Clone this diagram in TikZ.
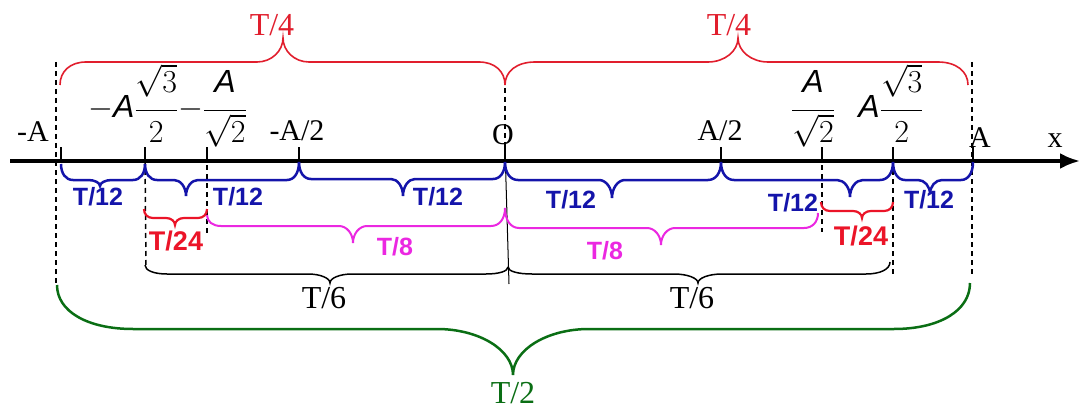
\documentclass[tikz,border=0pt]{standalone}
\usepackage{fix-cm}
\usepackage{amsmath}
\usepackage{fontspec}
\setmainfont{Liberation Serif}
\setsansfont{Liberation Sans}
\usetikzlibrary{arrows.meta}
\definecolor{cblu}{RGB}{20,20,170}
\definecolor{cred}{RGB}{225,30,45}
\definecolor{cred2}{RGB}{235,20,40}
\definecolor{cmag}{RGB}{235,40,225}
\definecolor{cgrn}{RGB}{10,110,20}
% brace: [style]{x1}{y1}{x2}{y2}{xtip}{ybar}{ytip}{r}
\newcommand\brc[9][]{\draw[#1] (#2,#3) .. controls (#2,{#3+0.6*(#7-#3)}) and ({#2+0.4*#9},#7) .. ({#2+#9},#7) -- ({#6-#9},#7) .. controls ({#6-0.45*#9},#7) and (#6,{#7+0.45*(#8-#7)}) .. (#6,#8) .. controls (#6,{#7+0.45*(#8-#7)}) and ({#6+0.45*#9},#7) .. ({#6+#9},#7) -- ({#4-#9},#7) .. controls ({#4-0.4*#9},#7) and (#4,{#5+0.6*(#7-#5)}) .. (#4,#5);}
\newcommand\Ai{\text{\sffamily\itshape A}}
\newcommand\ff[2]{\dfrac{\raisebox{3.5pt}{$#1$}}{\raisebox{-3pt}{$#2$}}}
\begin{document}
\begin{tikzpicture}[x=1pt,y=-1pt,
  lab/.style={font=\fontsize{30}{30}\selectfont, inner sep=0pt, anchor=base},
  tlab/.style={font=\fontsize{32}{32}\selectfont, inner sep=0pt, anchor=base},
  blab/.style={font=\fontsize{25}{25}\selectfont\sffamily\bfseries, inner sep=0pt, anchor=base},
  flab/.style={font=\fontsize{32}{32}\selectfont, inner sep=0pt},
  dsh/.style={line width=1.5pt, dash pattern=on 5pt off 4pt},
  tck/.style={line width=1.5pt},
  bbl/.style={cblu, line width=2.5pt},
  brd/.style={cred, line width=1.6pt},
  brd2/.style={cred2, line width=2.2pt},
  bmg/.style={cmag, line width=2pt},
  bbk/.style={black, line width=1.5pt},
  bgr/.style={cgrn, line width=2.5pt}]
\useasboundingbox (0,0) rectangle (1081,409);
% axis points
\coordinate (pA1) at (61,161);
\coordinate (pA2) at (145,161);
\coordinate (pA3) at (207,161);
\coordinate (pA4) at (299,161);
\coordinate (pO) at (505,161);
\coordinate (pB4) at (721,161);
\coordinate (pB3) at (822,161);
\coordinate (pB2) at (893,161);
\coordinate (pB1) at (973,161);
\coordinate (ax0) at (10,161);
\coordinate (ax1) at (1080,161);
% dashed guides
\draw[dsh] (56,62) -- (56,283);
\draw[dsh] (pA2) -- (146,268);
\draw[dsh] (207,147) -- (207,235);
\draw[dsh] (505,88) -- (505,152);
\draw[dsh] (822,147) -- (822,232);
\draw[dsh] (pB2) -- (893,275);
\draw[dsh] (972,62) -- (972,275);
% axis
\draw[line width=3.5pt, -{Latex[length=20pt,width=16pt]}] (ax0) -- (ax1);
% ticks
\foreach \p in {pA1,pA2,pA3,pA4,pO,pB4,pB3,pB2,pB1}
  \draw[tck] (\p) ++(0,-14) -- (\p);
\draw[line width=1pt] (505,148) -- (509,284);
% red T/4 braces
\brc[brd]{60}{85}{505}{85}{283}{62}{38}{26}
\brc[brd]{505}{85}{968}{85}{738}{62}{38}{30}
% blue T/12 braces
\brc[bbl]{61}{164}{145}{164}{100}{180}{186}{12}
\brc[bbl]{145}{164}{299}{162}{186}{180}{196}{12}
\brc[bbl]{299}{162}{505}{162}{403}{179}{196}{12}
\brc[bbl]{505}{162}{721}{162}{612}{180}{198}{13}
\brc[bbl]{721}{162}{893}{162}{850}{180}{197}{13}
\brc[bbl]{893}{162}{973}{162}{930}{180}{194}{12}
% red T/24 braces
\brc[brd2]{144}{209}{207}{209}{175}{218}{225}{9}
\brc[brd2]{821}{202}{893}{202}{862}{211}{218}{9}
% magenta T/8 braces
\brc[bmg]{207}{215}{505}{208}{353}{226}{243}{14}
\brc[bmg]{505}{208}{818}{213}{661}{228}{245}{14}
% black T/6 braces
\brc[bbk]{145}{265}{508}{267}{330}{274}{283}{22}
\brc[bbk]{508}{267}{890}{262}{698}{274}{283}{24}
% green T/2 brace
\brc[bgr]{57}{285}{970}{283}{513}{329}{375}{76}
% axis labels
\node[lab] (lA1) at (33,142) {-A};
\node[lab] (lA4) at (297,141) {-A/2};
\node[lab] (lO) at (503,145) {O};
\node[lab] (lB4) at (720,141) {A/2};
\node[lab] (lB1) at (980,147) {A};
\node[lab] (lx) at (1055,147) {x};
\node[flab, anchor=base west] (lA2) at (88,118) {$-\Ai\ff{\sqrt{3}}{2}$};
\node[flab, anchor=base west] (lA3) at (178,118) {${-}\ff{\Ai}{\sqrt{2}}$};
\node[flab, anchor=base] (lB3) at (813,118) {$\ff{\Ai}{\sqrt{2}}$};
\node[flab, anchor=base] (lB2) at (891,118) {$\Ai\ff{\sqrt{3}}{2}$};
% brace labels
\node[tlab, text=cred] (t4a) at (272,36) {T/4};
\node[tlab, text=cred] (t4b) at (729,36) {T/4};
\node[blab, text=cblu] (t12a) at (98,205) {T/12};
\node[blab, text=cblu] (t12b) at (238,205) {T/12};
\node[blab, text=cblu] (t12c) at (438,205) {T/12};
\node[blab, text=cblu] (t12d) at (571,208) {T/12};
\node[blab, text=cblu] (t12e) at (793,211) {T/12};
\node[blab, text=cblu] (t12f) at (929,208) {T/12};
\node[blab, text=cred2, font=\fontsize{27}{27}\selectfont\sffamily\bfseries] (t24a) at (176,250) {T/24};
\node[blab, text=cred2, font=\fontsize{27}{27}\selectfont\sffamily\bfseries] (t24b) at (861,245) {T/24};
\node[blab, text=cmag] (t8a) at (395,255) {T/8};
\node[blab, text=cmag] (t8b) at (605,259) {T/8};
\node[tlab] (t6a) at (324,308) {T/6};
\node[tlab] (t6b) at (692,308) {T/6};
\node[tlab, text=cgrn] (t2) at (513,403) {T/2};
\end{tikzpicture}
\end{document}
